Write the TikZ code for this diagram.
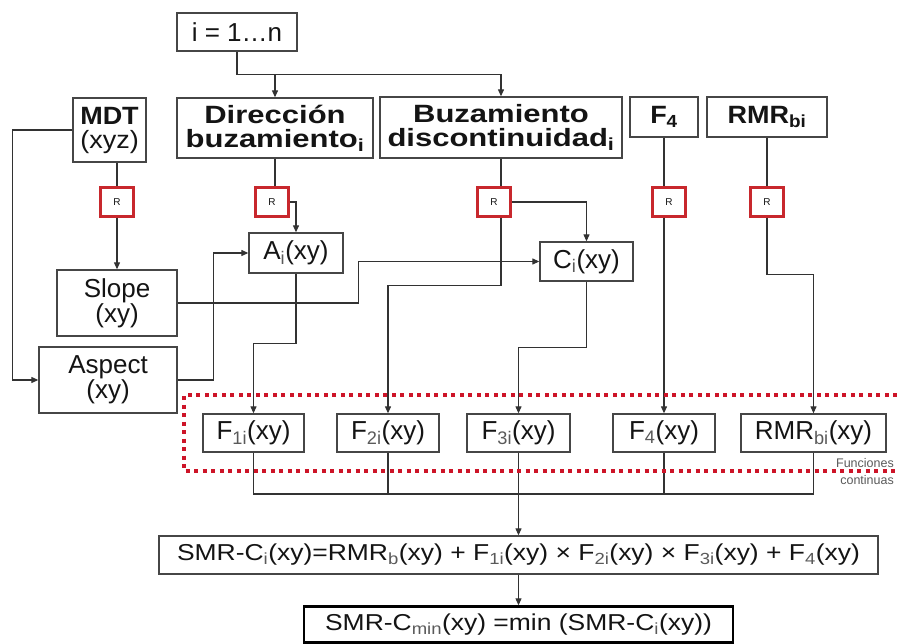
\documentclass[tikz,border=0pt]{standalone}
\usepackage{fontspec}
\setmainfont{Liberation Sans}
\newfontfamily\hdrfont[FakeStretch=1.08]{Liberation Sans}
\newfontfamily\hdrwide[FakeStretch=1.24]{Liberation Sans}
\newfontfamily\widefont[FakeStretch=1.15]{Liberation Sans}
\usetikzlibrary{arrows.meta}
\definecolor{boxc}{RGB}{70,70,70}
\definecolor{linec}{RGB}{50,50,50}
\definecolor{txt}{RGB}{20,20,20}
\definecolor{rred}{RGB}{200,40,45}
\definecolor{dotred}{RGB}{205,20,40}
\definecolor{subc}{RGB}{90,90,90}
\newcommand{\sbx}[1]{\textsubscript{\color{subc}#1}}
\newcommand{\sbb}[1]{\textsubscript{#1}}
\begin{document}
\begin{tikzpicture}[x=1pt,y=-1pt,
  box/.style={draw=boxc, line width=1.3pt, inner sep=0pt, align=center, fill=white, text=txt,
              font=\fontsize{26}{25}\selectfont},
  hdr/.style={box, font=\hdrfont\bfseries\fontsize{25}{24}\selectfont},
  hdrw/.style={box, font=\hdrwide\bfseries\fontsize{25}{24}\selectfont},
  rbox/.style={draw=rred, line width=2.5pt, fill=white, minimum width=33pt, minimum height=29pt,
               inner sep=0pt, text=txt, font=\fontsize{10}{10}\selectfont},
  conn/.style={draw=linec, line width=1.1pt},
  arr/.style={conn, -{Triangle[length=7pt,width=6pt]}}]
\useasboundingbox (0,0) rectangle (897,644);

% header boxes
\node[box, minimum width=120pt, minimum height=38pt] (top) at (237,32) {i = 1…n};
\node[hdr, minimum width=73pt, minimum height=64pt] (mdt) at (109.5,130) {MDT\\\mdseries(xyz)};
\node[hdrw, minimum width=196pt, minimum height=60pt] (dir) at (275,128) {Dirección\\buzamiento\sbb{i}};
\node[hdrw, minimum width=242pt, minimum height=61pt] (buz) at (501,127.5) {Buzamiento\\discontinuidad\sbb{i}};
\node[hdr, minimum width=68pt, minimum height=40pt] (f4h) at (664,117) {F\sbb{4}};
\node[hdr, minimum width=120pt, minimum height=40pt] (rmrh) at (767,117) {RMR\sbb{bi}};

% intermediate boxes
\node[box, minimum width=120pt, minimum height=66pt] (slope) at (117,303) {Slope\\(xy)};
\node[box, minimum width=138pt, minimum height=66pt] (aspect) at (108,380) {Aspect\\(xy)};
\node[box, minimum width=94pt, minimum height=40pt] (A) at (296,253) {A\sbx{i}(xy)};
\node[box, minimum width=93pt, minimum height=39pt] (C) at (586.5,261.5) {C\sbx{i}(xy)};

% F boxes
\node[box, minimum width=101pt, minimum height=38pt] (f1) at (253.5,433) {F\sbx{1i}(xy)};
\node[box, minimum width=102pt, minimum height=38pt] (f2) at (388,433) {F\sbx{2i}(xy)};
\node[box, minimum width=103pt, minimum height=38pt] (f3) at (518.5,433) {F\sbx{3i}(xy)};
\node[box, minimum width=102pt, minimum height=38pt] (f4) at (664,433) {F\sbx{4}(xy)};
\node[box, minimum width=145pt, minimum height=38pt] (rmr) at (813.5,433) {RMR\sbx{bi}(xy)};

% result boxes
\node[box, minimum width=719pt, minimum height=38pt, font=\widefont\fontsize{23}{25}\selectfont] (smr) at (518.5,555)
  {SMR-C\sbx{i}(xy)=RMR\sbx{b}(xy) + F\sbx{1i}(xy) × F\sbx{2i}(xy) × F\sbx{3i}(xy) + F\sbx{4}(xy)};
\node[box, draw=black, line width=2.4pt, minimum width=429pt, minimum height=36pt, font=\widefont\fontsize{23}{25}\selectfont] (min) at (518.5,624.5)
  {SMR-C\sbx{min}(xy) =min (SMR-C\sbx{i}(xy))};

% R nodes
\node[rbox] (rm) at (117,202) {R};
\node[rbox] (rd) at (272,202) {R};
\node[rbox] (rb) at (494,202) {R};
\node[rbox] (rf) at (669,202) {R};
\node[rbox] (rr) at (767,202) {R};

% connectors
\draw[conn] (top.south) -- ++(0,23) coordinate (tj);
\draw[arr] (tj) -| (dir.north);
\draw[arr] (tj) -| (buz.north);

\draw[arr] (mdt.west) -- ++(-60,0) |- (aspect.west);
\draw[conn] (mdt.south -| rm.north) -- (rm.north);
\draw[arr] (rm.south) -- (slope.north);

\draw[conn] (dir.south) -- (dir.south |- rd.north);
\draw[arr] (rd.east) -| (A.north);
\draw[arr] (aspect.east) -- ++(36,0) |- (A.west);
\draw[arr] (slope.east) -- ++(181,0) |- (C.west);
\draw[arr] (A.south) -- ++(0,70) -| (f1.north);

\draw[conn] (buz.south) -- (buz.south |- rb.north);
\draw[arr] (buz.south |- rb.south) -- ++(0,68) -| (f2.north);
\draw[arr] (rb.east) -| (C.north);
\draw[arr] (C.south) -- ++(0,66) -| (f3.north);

\draw[conn] (f4h.south) -- (f4h.south |- rf.north);
\draw[arr] (f4h.south |- rf.south) -- (f4.north);
\draw[conn] (rmrh.south) -- (rr.north);
\draw[arr] (rr.south) -- ++(0,57) -| (rmr.north);

% bottom bus
\coordinate (bus) at (518.5,494);
\draw[conn] (f1.south) |- (bus) -| (rmr.south);
\draw[conn] (f2.south) -- (f2.south |- bus);
\draw[conn] (f4.south) -- (f4.south |- bus);
\draw[arr] (f3.south) -- (smr.north);
\draw[arr] (smr.south) -- (min.north);

% red dotted region
\draw[dotred, line width=4pt, dash pattern=on 4pt off 4.5pt] (897,395) -- (184,395) -- (184,471) -- (897,471);
\node[anchor=north east, align=right, inner sep=0pt, text=subc, font=\fontsize{12.5}{17}\selectfont] (fc) at (894,458) {Funciones\\continuas};
\end{tikzpicture}
\end{document}
